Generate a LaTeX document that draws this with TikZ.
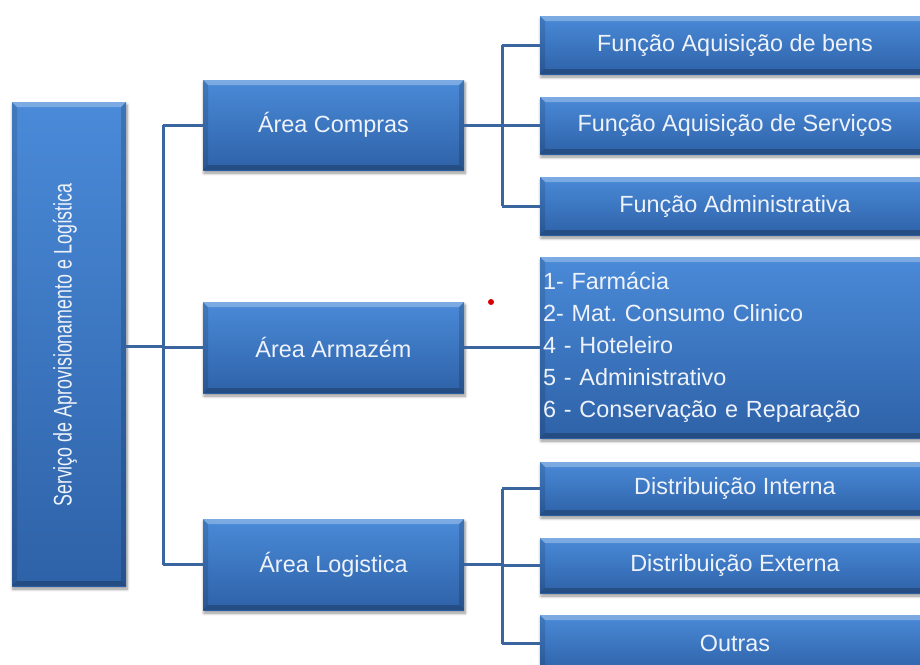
\documentclass[tikz,border=0pt]{standalone}
\usepackage{fontspec}
\setmainfont{Liberation Sans}
\usetikzlibrary{shadows.blur}
\definecolor{boxtop}{HTML}{4A8AD8}
\definecolor{boxbot}{HTML}{2E62A8}
\definecolor{linec}{HTML}{3A659E}
\definecolor{txtc}{HTML}{EEF2FA}
\tikzset{
  bx/.style={rectangle, inner sep=0pt, top color=boxtop, bottom color=boxbot,
    text=txtc, font=\fontsize{23.4}{32}\selectfont\frenchspacing,
    blur shadow={shadow xshift=1pt, shadow yshift=-3pt, shadow blur steps=6, shadow blur radius=3pt, shadow opacity=45},
    path picture={
      \fill[white,opacity=0.28] (path picture bounding box.north west) -- (path picture bounding box.north east)
        -- ([xshift=-5pt,yshift=-5pt]path picture bounding box.north east) -- ([xshift=5pt,yshift=-5pt]path picture bounding box.north west) -- cycle;
      \fill[black,opacity=0.22] (path picture bounding box.south west) -- (path picture bounding box.south east)
        -- ([xshift=-5pt,yshift=5pt]path picture bounding box.south east) -- ([xshift=5pt,yshift=5pt]path picture bounding box.south west) -- cycle;
      \fill[black,opacity=0.12] (path picture bounding box.north west) -- ([xshift=5pt,yshift=-5pt]path picture bounding box.north west)
        -- ([xshift=5pt,yshift=5pt]path picture bounding box.south west) -- (path picture bounding box.south west) -- cycle;
      \fill[black,opacity=0.16] (path picture bounding box.north east) -- ([xshift=-5pt,yshift=-5pt]path picture bounding box.north east)
        -- ([xshift=-5pt,yshift=5pt]path picture bounding box.south east) -- (path picture bounding box.south east) -- cycle;
    }},
  conn/.style={draw=linec, line width=3pt},
}
\begin{document}
\begin{tikzpicture}[x=1pt,y=-1pt]
\useasboundingbox (0,0) rectangle (920,664);
\clip (0,0) rectangle (920,664);
% root
\node[bx, minimum width=114pt, minimum height=484pt] (root) at (69,344) {};
\node[text=txtc, rotate=90, font=\fontsize{25.5}{30}\selectfont] (roottxt) at (65,345) {\scalebox{0.70}[1]{Serviço de Aprovisionamento e Logística}};
% areas
\node[bx, minimum width=261pt, minimum height=90pt] (compras) at (333.5,125) {Área Compras};
\node[bx, minimum width=261pt, minimum height=91pt] (armazem) at (333.5,347.5) {Área Armazém};
\node[bx, minimum width=261pt, minimum height=91pt] (logistica) at (333.5,564.5) {Área Logistica};
% compras children
\node[bx, minimum width=390pt, minimum height=58pt] (f1) at (735,45) {Função Aquisição de bens};
\node[bx, minimum width=390pt, minimum height=57pt] (f2) at (735,125.5) {Função Aquisição de Serviços};
\node[bx, minimum width=390pt, minimum height=58pt] (f3) at (735,206) {Função Administrativa};
% armazem list
\node[bx, minimum width=390pt, minimum height=181pt, align=left, text width=384pt, inner xsep=3pt] (lst) at (735,347.5) {1- Farmácia\\2- Mat. Consumo Clinico\\4 - Hoteleiro\\5 - Administrativo\\6 - Conservação e Reparação};
% logistica children
\node[bx, minimum width=390pt, minimum height=53pt] (d1) at (735,488.5) {Distribuição Interna};
\node[bx, minimum width=390pt, minimum height=55pt] (d2) at (735,565.5) {Distribuição Externa};
\node[bx, minimum width=390pt, minimum height=57pt] (d3) at (735,643.5) {Outras};
% connectors
\coordinate (j0) at (163,346);
\coordinate (j1) at (502,125);
\coordinate (j3) at (502,565);
\draw[conn] (root.east |- j0) -- (j0);
\draw[conn] (j0 |- compras.west) -- (j0 |- logistica.west);
\draw[conn] (j0 |- compras.west) -- (compras.west);
\draw[conn] (j0 |- armazem.west) -- (armazem.west);
\draw[conn] (j0 |- logistica.west) -- (logistica.west);
\draw[conn] (compras.east) -- (j1 |- compras.east);
\draw[conn] (j1 |- f1.west) -- (j1 |- f3.west);
\draw[conn] (j1 |- f1.west) -- (f1.west);
\draw[conn] (j1 |- f2.west) -- (f2.west);
\draw[conn] (j1 |- f3.west) -- (f3.west);
\draw[conn] (armazem.east) -- (armazem.east -| lst.west);
\draw[conn] (logistica.east) -- (j3 |- logistica.east);
\draw[conn] (j3 |- d1.west) -- (j3 |- d3.west);
\draw[conn] (j3 |- d1.west) -- (d1.west);
\draw[conn] (j3 |- d2.west) -- (d2.west);
\draw[conn] (j3 |- d3.west) -- (d3.west);
% red dot
\fill[red!85!black] (491,302) circle (3pt);
\end{tikzpicture}
\end{document}
